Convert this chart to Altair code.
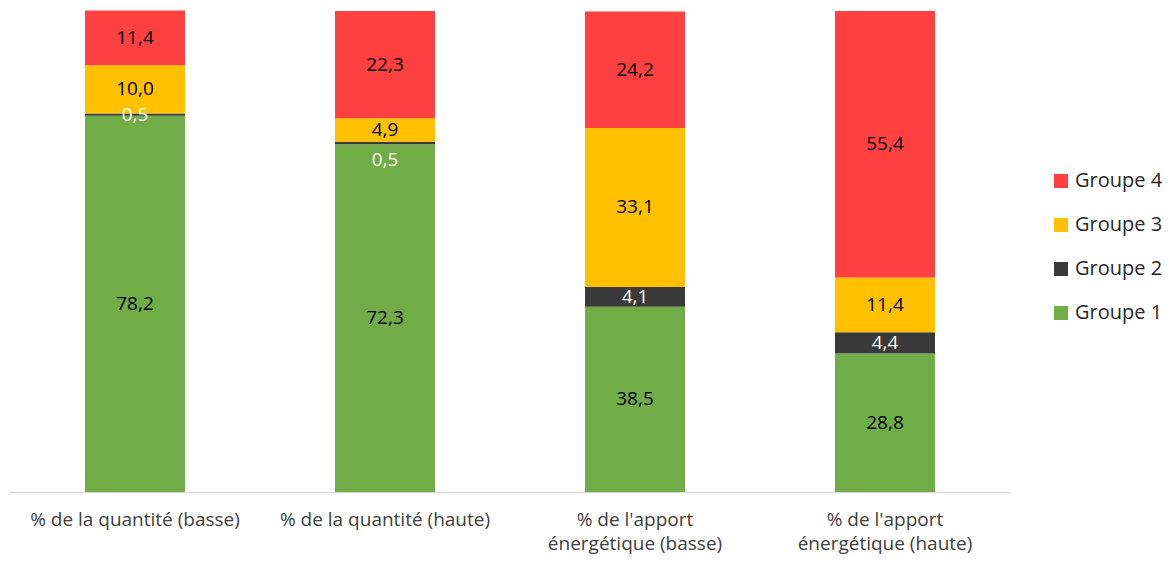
import altair as alt
import pandas as pd

categories = ["% de la quantité (basse)", "% de la quantité (haute)",
              "% de l'apport|énergétique (basse)", "% de l'apport|énergétique (haute)"]
groups = ["Groupe 1", "Groupe 2", "Groupe 3", "Groupe 4"]
groupe1 = [78.2, 72.3, 38.5, 28.8]
groupe2 = [0.5, 0.5, 4.1, 4.4]
groupe3 = [10.0, 4.9, 33.1, 11.4]
groupe4 = [11.4, 22.3, 24.2, 55.4]
colors = ["#70AD47", "#3A3A3A", "#FFC000", "#FF4040"]

rows = []
for gi, (g, vals) in enumerate(zip(groups, [groupe1, groupe2, groupe3, groupe4])):
    for ci, (c, v) in enumerate(zip(categories, vals)):
        rows.append({"cat": c, "ci": ci, "groupe": g, "gi": gi, "v": v,
                     "label": f"{v:.1f}".replace(".", ",")})
df = pd.DataFrame(rows)

FONT = "Open Sans"

base = alt.Chart(df).transform_stack(
    stack="v", groupby=["cat"], as_=["y0", "y1"],
    sort=[alt.SortField("gi", order="ascending")]
).transform_calculate(mid="(datum.y0 + datum.y1) / 2")

xenc = alt.X("cat:N", sort=categories, title=None,
             scale=alt.Scale(paddingInner=0.6, paddingOuter=0.3),
             axis=alt.Axis(labelAngle=0, labelExpr="split(datum.label, '|')",
                           labelFont=FONT, labelFontSize=19, labelColor="#404040",
                           labelLineHeight=24, labelPadding=18, ticks=False,
                           domainColor="#D9D9D9", domainWidth=1.5, labelLimit=300))
yscale = alt.Scale(domain=[0, 100], nice=False, zero=True)

bars = base.mark_bar().encode(
    x=xenc,
    y=alt.Y("y0:Q", scale=yscale, axis=None),
    y2="y1:Q",
    color=alt.Color("groupe:N",
                    scale=alt.Scale(domain=groups[::-1], range=colors[::-1]),
                    legend=alt.Legend(title=None, orient="none", legendX=1041, legendY=160,
                                      padding=0, symbolType="square", symbolSize=196,
                                      symbolStrokeWidth=0, labelFont=FONT,
                                      labelFontSize=20, labelColor="#262626",
                                      labelOffset=4, rowPadding=24, symbolOffset=0)),
)

textcolor = alt.condition("datum.groupe == 'Groupe 2'", alt.value("white"), alt.value("black"))

texts = base.mark_text(font=FONT, fontSize=19, baseline="middle").encode(
    x=alt.X("cat:N", sort=categories),
    y=alt.Y("mid:Q", scale=yscale),
    text="label:N",
    color=textcolor,
).transform_filter("!(datum.ci == 1 && datum.gi == 1)")

text_shift = base.mark_text(font=FONT, fontSize=19, baseline="middle", dy=17).encode(
    x=alt.X("cat:N", sort=categories),
    y=alt.Y("mid:Q", scale=yscale),
    text="label:N",
    color=textcolor,
).transform_filter("datum.ci == 1 && datum.gi == 1")

chart = alt.layer(bars, texts, text_shift).properties(
    width=1000, height=481,
    autosize=alt.AutoSizeParams(type="none"),
    padding={"left": 2, "top": 3, "right": 154, "bottom": 62},
).configure_view(stroke=None)

chart.save("out.html", embed_options={"renderer": "svg", "actions": False})
